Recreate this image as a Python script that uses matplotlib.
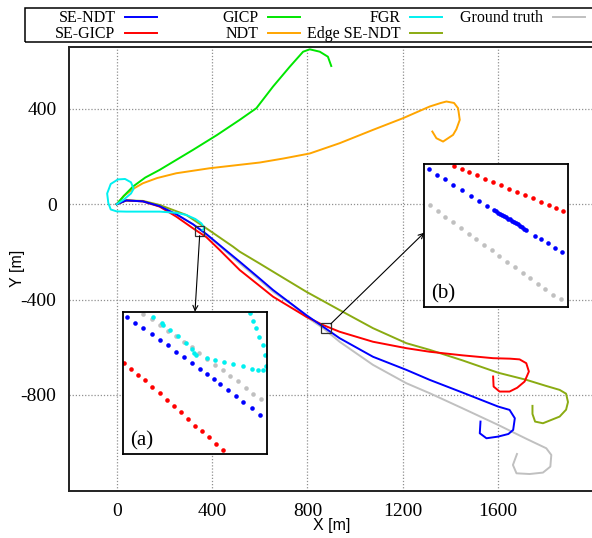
import matplotlib
matplotlib.use('Agg')
import matplotlib.pyplot as plt
from matplotlib.patches import Rectangle

plt.rcParams['axes.unicode_minus'] = False
SERIF = 'Liberation Serif'
SANS = 'Liberation Sans'

# ---------------- data (metres) ----------------
labels = ['SE-NDT', 'SE-GICP', 'GICP', 'NDT', 'FGR', 'Edge SE-NDT', 'Ground truth']
colors = ['#0000ff', '#ff0000', '#00e600', '#ffa500', '#00f0f0', '#8aab12', '#c0c0c0']

gt_x = [0, 40, 110, 180, 250, 320, 376, 460, 516, 600, 656, 740, 795, 866, 935, 1075, 1215, 1313, 1450, 1600,
        1720, 1802, 1823, 1819, 1788, 1732, 1677, 1662, 1679]
gt_y = [0, 16, 12, -8, -42, -84, -127, -200, -248, -318, -367, -425, -472, -520, -577, -674, -751, -793, -856, -926,
        -985, -1024, -1052, -1101, -1126, -1132, -1129, -1094, -1048]

sendt_x = [0, 40, 110, 180, 250, 320, 376, 460, 516, 600, 656, 795, 866, 935, 1075, 1215, 1313, 1450, 1600,
           1648, 1670, 1663, 1643, 1600, 1551, 1523, 1526]
sendt_y = [0, 16, 12, -8, -42, -84, -125, -195, -241, -312, -360, -465, -514, -562, -640, -695, -737, -790, -849,
           -863, -898, -947, -964, -975, -982, -961, -912]

segicp_x = [0, 40, 110, 180, 250, 320, 376, 432, 516, 600, 656, 795, 866, 935, 1075, 1215, 1313, 1450, 1579,
            1650, 1690, 1718, 1729, 1711, 1680, 1648, 1606, 1581, 1579]
segicp_y = [0, 16, 12, -10, -52, -101, -138, -192, -276, -343, -388, -472, -507, -535, -577, -604, -619, -634, -646,
            -648, -651, -667, -702, -744, -770, -786, -786, -765, -723]

gicp_x = [0, 30, 68, 120, 180, 250, 320, 420, 516, 586, 656, 726, 782, 810, 852, 886, 900]
gicp_y = [0, 35, 74, 112, 144, 186, 228, 290, 354, 403, 494, 577, 640, 650, 640, 619, 580]

ndt_x = [0, 30, 70, 110, 170, 250, 390, 600, 700, 810, 935, 1075, 1201, 1313, 1360, 1383, 1415, 1432, 1439,
         1425, 1411, 1369, 1341, 1324]
ndt_y = [0, 35, 65, 88, 110, 130, 151, 175, 192, 213, 256, 312, 361, 410, 425, 431, 425, 403, 354,
         315, 291, 263, 277, 305]

fgr_x = [0, 30, 60, 71, 60, 35, 5, -25, -40, -35, -25, 0, 41, 180, 250, 292, 330, 355, 369, 360]
fgr_y = [0, 20, 45, 65, 92, 106, 104, 85, 45, 5, -22, -30, -31, -31, -36, -45, -62, -80, -100, -108]

edge_x = [0, 40, 110, 180, 292, 376, 488, 516, 600, 656, 795, 935, 1075, 1215, 1313, 1450, 1600, 1719, 1800,
          1858, 1885, 1893, 1885, 1858, 1788, 1755, 1744, 1744]
edge_y = [0, 16, 14, -3, -45, -101, -178, -199, -249, -283, -367, -444, -520, -583, -611, -655, -707, -737, -762,
          -779, -795, -830, -862, -891, -919, -912, -880, -846]

xticks = [0, 400, 800, 1200, 1600]
yticks = [-800, -400, 0, 400]
xtick_labels = ['0', '400', '800', '1200', '1600']
ytick_labels = ['-800', '-400', '0', '400']

# zoom windows (metres, lower-left corner, 40 m square)
zoom_a = (328, -132)
zoom_b = (858, -540)
zoom_size = 40

# inset (a) samples, local metres inside the zoom window
a_blue_u = [1.1, 3.4, 5.6, 7.9, 10.2, 12.6, 14.7, 16.9, 19.2, 21.5, 23.3, 25.2, 27.0, 29.1, 31.3, 33.5, 35.8, 38.0]
a_blue_v = [38.6, 36.9, 35.3, 33.7, 32.1, 30.5, 28.8, 27.2, 25.5, 23.8, 22.5, 21.0, 19.7, 18.1, 16.4, 14.7, 12.9, 11.0]
a_red_u = [0.2, 2.1, 4.2, 6.1, 8.1, 10.1, 12.1, 14.1, 16.1, 18.1, 20.0, 21.9, 23.8, 25.8, 27.7]
a_red_v = [25.5, 23.8, 22.2, 20.7, 18.8, 17.1, 15.3, 13.6, 11.7, 9.8, 8.0, 6.4, 4.7, 2.8, 1.0]
a_gray_u = [5.6, 7.9, 10.2, 12.6, 14.7, 16.8, 19.1, 21.2, 23.3, 25.5, 27.7, 29.9, 32.0, 34.1, 36.3, 38.4]
a_gray_v = [39.3, 37.9, 36.3, 34.7, 33.2, 31.6, 30.0, 28.3, 26.7, 25.1, 23.6, 22.0, 20.4, 18.6, 17.0, 15.4]
a_cyan_u = [8.4, 10.7, 11.0, 13.0, 15.3, 17.5, 19.3, 19.7, 20.3, 23.3, 25.7, 28.2, 30.7, 33.3, 35.9, 37.7, 39.1,
            39.8, 39.5, 38.9, 37.9, 37.0, 36.3, 35.3]
a_cyan_v = [38.6, 36.9, 36.3, 34.9, 33.3, 31.3, 29.4, 28.5, 27.9, 26.9, 26.4, 25.9, 25.4, 24.6, 23.8, 23.5, 23.6,
            24.6, 27.9, 30.7, 33.0, 35.3, 37.5, 39.7]

# inset (b) samples
b_red_u = [8.4, 10.4, 12.6, 14.8, 16.9, 19.3, 21.5, 23.7, 25.9, 28.2, 30.4, 32.6, 34.7, 36.8, 38.8]
b_red_v = [39.6, 38.8, 37.9, 36.9, 36.0, 35.0, 34.1, 33.2, 32.2, 31.3, 30.4, 29.5, 28.7, 27.7, 27.0]
b_blue_u = [1.4, 3.6, 5.7, 8.1, 10.5, 13.1, 15.3, 17.6, 19.4, 20.0, 20.6, 21.1, 21.7, 22.2, 22.8, 23.3, 23.9,
            24.5, 25.0, 25.6, 26.1, 26.7, 27.2, 27.8, 28.4, 30.9, 32.6, 34.4, 36.4, 38.5]
b_blue_v = [38.6, 37.1, 35.8, 34.3, 32.7, 31.1, 29.6, 28.3, 27.2, 26.8, 26.4, 26.1, 25.8, 25.5, 25.1, 24.7, 24.5,
            24.1, 23.7, 23.4, 23.1, 22.7, 22.3, 21.9, 21.5, 19.9, 18.9, 17.8, 16.6, 15.3]
b_gray_u = [1.6, 3.7, 5.9, 8.1, 10.1, 12.4, 14.5, 16.6, 18.8, 20.9, 23.1, 25.3, 27.4, 29.5, 31.6, 33.8, 35.9, 38.0]
b_gray_v = [28.5, 26.9, 25.3, 23.7, 22.1, 20.5, 18.9, 17.4, 15.8, 14.2, 12.6, 11.2, 9.6, 8.0, 6.5, 4.9, 3.4, 2.2]

# ---------------- figure ----------------
W, H = 592, 538
fig = plt.figure(figsize=(W / 100, H / 100), dpi=100)


def px_rect(l, t, r, b):
    return [l / W, 1 - b / H, (r - l) / W, (b - t) / H]


ax = fig.add_axes(px_rect(69, 46.7, 593.5, 490.7))
ax.set_xlim(-200, 2000)
ax.set_ylim(-1202, 661)

series = [
    (gt_x, gt_y, 6),
    (edge_x, edge_y, 5),
    (ndt_x, ndt_y, 3),
    (gicp_x, gicp_y, 2),
    (segicp_x, segicp_y, 1),
    (sendt_x, sendt_y, 0),
    (fgr_x, fgr_y, 4),
]
handles = [None] * 7
for xs, ys, i in series:
    (ln,) = ax.plot(xs, ys, color=colors[i], lw=1.4, label=labels[i], zorder=3)
    handles[i] = ln

ax.set_xticks(xticks)
ax.set_xticklabels(xtick_labels)
ax.set_yticks(yticks)
ax.set_yticklabels(ytick_labels)
ax.tick_params(length=0, labelsize=14, pad=9)
for t in ax.get_xticklabels() + ax.get_yticklabels():
    t.set_family(SERIF)
ax.grid(True, ls=(0, (1, 1.5)), color='#909090', lw=0.9)
for s in ax.spines.values():
    s.set_linewidth(1.4)
    s.set_color('#222222')

ax.set_xlabel('X [m]', family=SANS, fontsize=11.5)
ax.set_ylabel('Y [m]', family=SANS, fontsize=11.5)
ax.xaxis.set_label_coords(0.5, -0.062)
ax.yaxis.set_label_coords(-0.083, 0.5)

# zoom boxes
for (zx, zy) in (zoom_a, zoom_b):
    ax.add_patch(Rectangle((zx, zy), zoom_size, zoom_size, fill=False, ec='#333333', lw=0.9, zorder=5))

# insets


def make_inset(rect, pts, tag):
    a = fig.add_axes(rect)
    for us, vs, c in pts:
        a.plot(us, vs, 'o', color=c, ms=3.3, mec='none')
    a.set_xlim(0, zoom_size)
    a.set_ylim(0, zoom_size)
    a.set_xticks([])
    a.set_yticks([])
    for s in a.spines.values():
        s.set_linewidth(1.3)
    a.text(0.05, 0.09, tag, transform=a.transAxes, fontsize=15, family=SERIF, va='center', ha='left')
    return a


ax_a = make_inset(px_rect(123.3, 311.7, 266.7, 454), [
    (a_gray_u, a_gray_v, colors[6]),
    (a_cyan_u, a_cyan_v, colors[4]),
    (a_blue_u, a_blue_v, colors[0]),
    (a_red_u, a_red_v, colors[1]),
], '(a)')
ax_b = make_inset(px_rect(424.3, 164.3, 567.7, 306.7), [
    (b_gray_u, b_gray_v, colors[6]),
    (b_blue_u, b_blue_v, colors[0]),
    (b_red_u, b_red_v, colors[1]),
], '(b)')

arrow = dict(arrowstyle='->', color='black', lw=0.8, mutation_scale=9, shrinkA=0, shrinkB=0)
ax_a.annotate('', xy=(0.5, 1.0), xycoords='axes fraction',
              xytext=(zoom_a[0] + 20, zoom_a[1]), textcoords=ax.transData, arrowprops=arrow)
ax_b.annotate('', xy=(0.0, 0.52), xycoords='axes fraction',
              xytext=(zoom_b[0] + 40, zoom_b[1] + 38), textcoords=ax.transData, arrowprops=arrow)

# legend (gnuplot-like: text then line, fixed-width columns)
columns = [[0, 1], [2, 3], [4, 5], [6]]
col_right = [157, 300, 442, 585]
for idxs, xr in zip(columns, col_right):
    fig.legend([handles[i] for i in idxs], [labels[i] for i in idxs],
               loc='upper right', bbox_to_anchor=(xr / W, 1 - 10.5 / H),
               bbox_transform=fig.transFigure, frameon=False, markerfirst=False,
               borderpad=0, borderaxespad=0, handlelength=2.0, handletextpad=0.6,
               labelspacing=0.0, prop={'family': SERIF, 'size': 11.5})
fig.add_artist(Rectangle((25 / W, 1 - 41.7 / H), (600 - 25) / W, 33.4 / H,
                         transform=fig.transFigure, fill=False, ec='black', lw=1.1))

fig.savefig('out.png', dpi=100)
